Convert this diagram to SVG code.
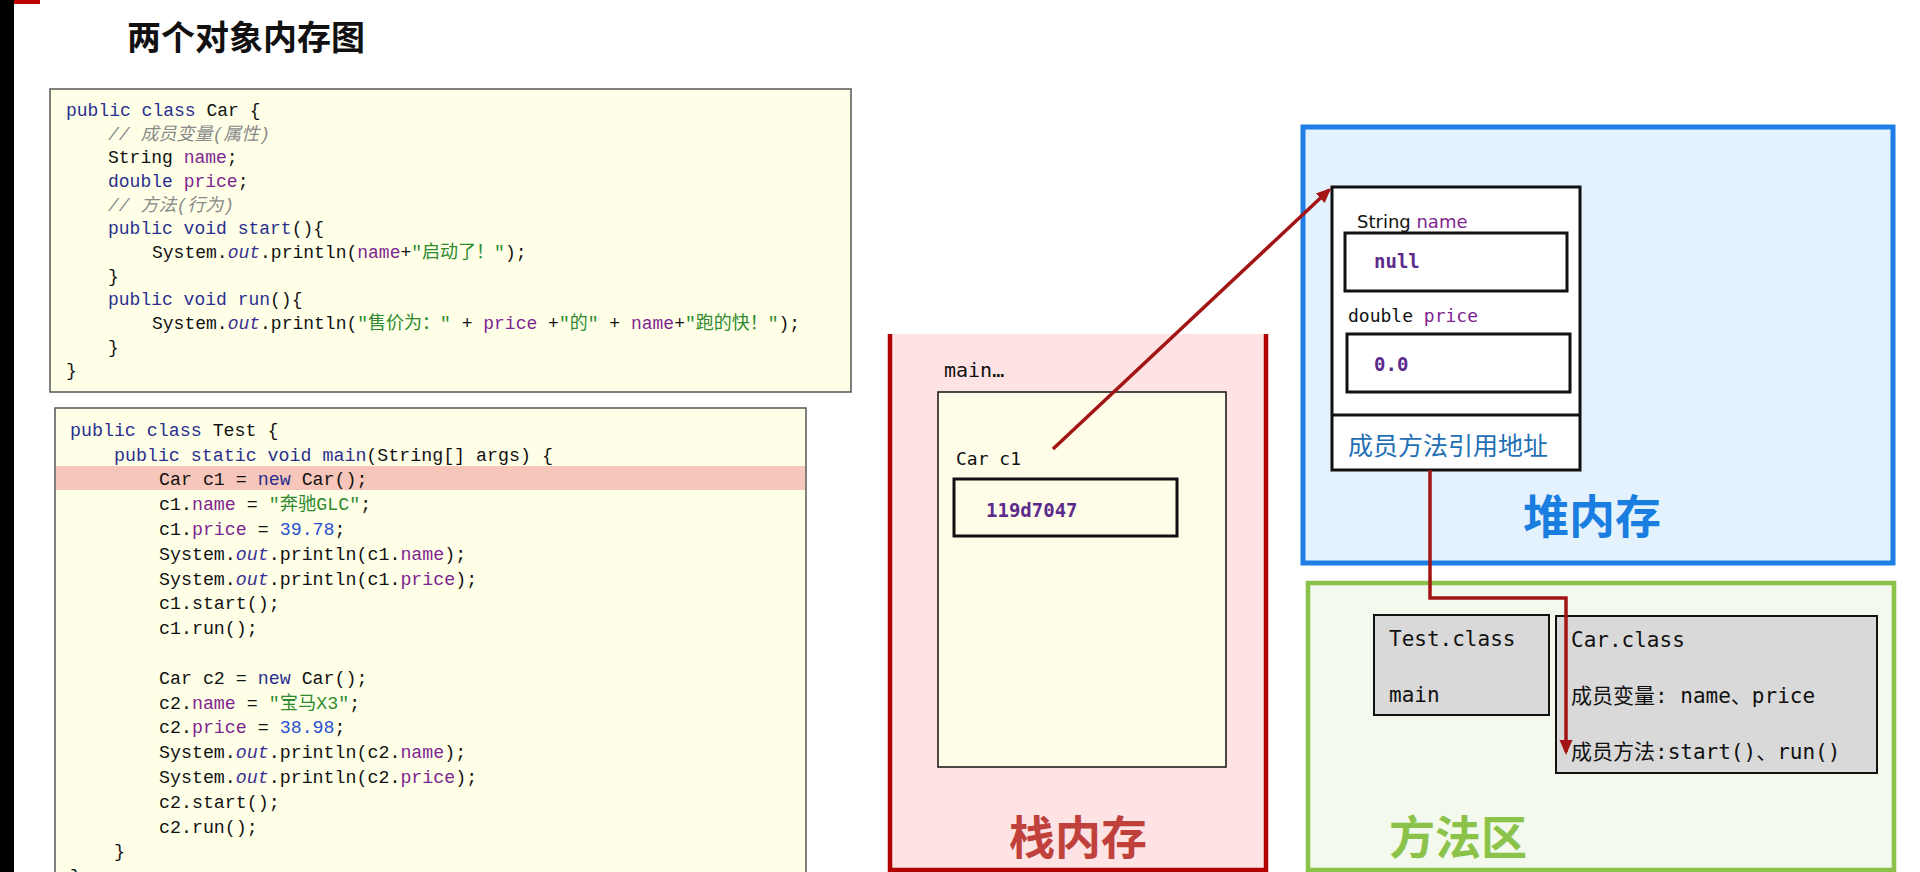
<svg xmlns="http://www.w3.org/2000/svg" width="1920" height="872" viewBox="0 0 1920 872">
<defs>
<style>
.code{font-family:"Liberation Mono","Noto Sans CJK SC",monospace;font-size:18px;fill:#111;}
.kw{fill:#2a2f8f;}
.fld{fill:#7f2590;}
.str{fill:#2f8a2f;}
.num{fill:#2a4fd0;}
.cmt{fill:#8a8a8a;font-style:italic;}
.it{font-style:italic;fill:#3a2f90;}
.mono{font-family:"DejaVu Sans Mono","Noto Sans CJK SC",monospace;fill:#111;}
.val{font-family:"DejaVu Sans Mono",monospace;font-weight:bold;fill:#5b2a8c;font-size:19px;}
.big{font-family:"Noto Sans CJK SC",sans-serif;font-weight:bold;font-size:46px;text-anchor:middle;}
.box{fill:none;stroke:#111;stroke-width:3;}
</style>
<marker id="ah2" markerWidth="15" markerHeight="15" refX="12" refY="7.5" orient="auto" markerUnits="userSpaceOnUse" viewBox="0 0 15 15">
<path d="M0,1 L15,7.5 L0,14 z" fill="#a31515"/>
</marker>
</defs>
<rect width="1920" height="872" fill="#ffffff"/>
<rect x="0" y="0" width="14" height="872" fill="#000"/>
<rect x="14" y="0" width="26" height="4" fill="#c00000"/>

<g id="title">
<text x="127" y="50" font-family="Noto Sans CJK SC,sans-serif" font-weight="bold" font-size="34" fill="#111">两个对象内存图</text>
</g>

<g id="car-code">
<rect x="50" y="89" width="801" height="303" fill="#ffffe8" stroke="#555" stroke-width="1.5"/>
<text class="code" xml:space="preserve">
<tspan x="66" y="116"><tspan class="kw">public class</tspan> Car {</tspan>
<tspan x="108" y="140" class="cmt">// 成员变量(属性)</tspan>
<tspan x="108" y="163">String <tspan class="fld">name</tspan>;</tspan>
<tspan x="108" y="187"><tspan class="kw">double</tspan> <tspan class="fld">price</tspan>;</tspan>
<tspan x="108" y="211" class="cmt">// 方法(行为)</tspan>
<tspan x="108" y="234"><tspan class="kw">public void</tspan> <tspan class="kw">start</tspan>(){</tspan>
<tspan x="152" y="258">System.<tspan class="it">out</tspan>.println(<tspan class="fld">name</tspan>+<tspan class="str">"启动了！"</tspan>);</tspan>
<tspan x="108" y="282">}</tspan>
<tspan x="108" y="305"><tspan class="kw">public void</tspan> <tspan class="kw">run</tspan>(){</tspan>
<tspan x="152" y="329">System.<tspan class="it">out</tspan>.println(<tspan class="str">"售价为："</tspan> + <tspan class="fld">price</tspan> +<tspan class="str">"的"</tspan> + <tspan class="fld">name</tspan>+<tspan class="str">"跑的快！"</tspan>);</tspan>
<tspan x="108" y="353">}</tspan>
<tspan x="66" y="376">}</tspan>
</text>
</g>

<g id="test-code">
<rect x="55" y="408" width="751" height="470" fill="#ffffe8" stroke="#555" stroke-width="1.5"/>
<rect x="56" y="466" width="749" height="24" fill="#f6c6ba"/>
<text class="code" style="font-size:18.3px" xml:space="preserve">
<tspan x="70" y="436"><tspan class="kw">public class</tspan> Test {</tspan>
<tspan x="114" y="461"><tspan class="kw">public static void</tspan> <tspan class="kw">main</tspan>(String[] args) {</tspan>
<tspan x="159" y="485">Car c1 = <tspan class="kw">new</tspan> Car();</tspan>
<tspan x="159" y="510">c1.<tspan class="fld">name</tspan> = <tspan class="str">"奔驰GLC"</tspan>;</tspan>
<tspan x="159" y="535">c1.<tspan class="fld">price</tspan> = <tspan class="num">39.78</tspan>;</tspan>
<tspan x="159" y="560">System.<tspan class="it">out</tspan>.println(c1.<tspan class="fld">name</tspan>);</tspan>
<tspan x="159" y="585">System.<tspan class="it">out</tspan>.println(c1.<tspan class="fld">price</tspan>);</tspan>
<tspan x="159" y="609">c1.start();</tspan>
<tspan x="159" y="634">c1.run();</tspan>
<tspan x="159" y="684">Car c2 = <tspan class="kw">new</tspan> Car();</tspan>
<tspan x="159" y="709">c2.<tspan class="fld">name</tspan> = <tspan class="str">"宝马X3"</tspan>;</tspan>
<tspan x="159" y="733">c2.<tspan class="fld">price</tspan> = <tspan class="num">38.98</tspan>;</tspan>
<tspan x="159" y="758">System.<tspan class="it">out</tspan>.println(c2.<tspan class="fld">name</tspan>);</tspan>
<tspan x="159" y="783">System.<tspan class="it">out</tspan>.println(c2.<tspan class="fld">price</tspan>);</tspan>
<tspan x="159" y="808">c2.start();</tspan>
<tspan x="159" y="833">c2.run();</tspan>
<tspan x="114" y="857">}</tspan>
<tspan x="70" y="882">}</tspan>
</text>
</g>

<g id="stack">
<rect x="890" y="334" width="376" height="538" fill="#fde3e3"/>
<path d="M890,334 V870 H1266 V334" fill="none" stroke="#b00000" stroke-width="4.5"/>
<text class="mono" x="944" y="377" font-size="20">main…</text>
<rect x="938" y="392" width="288" height="375" fill="#fffde8" stroke="#111" stroke-width="1.5"/>
<text class="mono" x="956" y="465" font-size="18">Car c1</text>
<rect x="954" y="479" width="223" height="57" fill="none" stroke="#111" stroke-width="3"/>
<text class="val" x="986" y="517">119d7047</text>
<text class="big" x="1078" y="854" fill="#c0403c">栈内存</text>
</g>

<g id="heap">
<rect x="1303" y="127" width="590" height="436" fill="#e4f2fd" stroke="#1e7ee6" stroke-width="5"/>
<rect x="1332" y="187" width="248" height="283" fill="#ffffff" stroke="#111" stroke-width="3"/>
<line x1="1332" y1="415" x2="1580" y2="415" stroke="#111" stroke-width="3"/>
<text x="1357" y="228" font-family="DejaVu Sans,sans-serif" font-size="18" fill="#111">String <tspan fill="#7f2590">name</tspan></text>
<rect x="1345" y="233" width="222" height="58" class="box"/>
<text class="val" x="1374" y="268">null</text>
<text class="mono" x="1348" y="322" font-size="18" fill="#2a2f8f">double <tspan fill="#7f2590">price</tspan></text>
<rect x="1347" y="334" width="223" height="58" class="box"/>
<text class="val" x="1374" y="371">0.0</text>
<text x="1348" y="455" font-family="Noto Sans CJK SC,sans-serif" font-size="25" fill="#1f6fb5">成员方法引用地址</text>
<text class="big" x="1592" y="533" fill="#1a7de0">堆内存</text>
</g>

<g id="method-area">
<rect x="1308" y="583" width="586" height="287" fill="#f3f9ec" stroke="#8bc34a" stroke-width="4.5"/>
<rect x="1374" y="615" width="175" height="100" fill="#d9d9d9" stroke="#111" stroke-width="2"/>
<text class="mono" x="1389" y="646" font-size="21">Test.class</text>
<text class="mono" x="1389" y="702" font-size="21">main</text>
<rect x="1556" y="616" width="321" height="157" fill="#d9d9d9" stroke="#111" stroke-width="2"/>
<text class="mono" x="1571" y="647" font-size="21">Car.class</text>
<text class="mono" x="1571" y="703" font-size="21">成员变量: name、price</text>
<text class="mono" x="1571" y="759" font-size="21">成员方法:start()、run()</text>
<text class="big" x="1458" y="854" fill="#8bc34a">方法区</text>
</g>

<g id="connectors" fill="none" stroke="#a31515" stroke-width="3.5">
<line x1="1053" y1="449" x2="1329" y2="190" marker-end="url(#ah2)"/>
<polyline points="1430,470 1430,598 1566,598 1566,752" marker-end="url(#ah2)"/>
</g>
</svg>
